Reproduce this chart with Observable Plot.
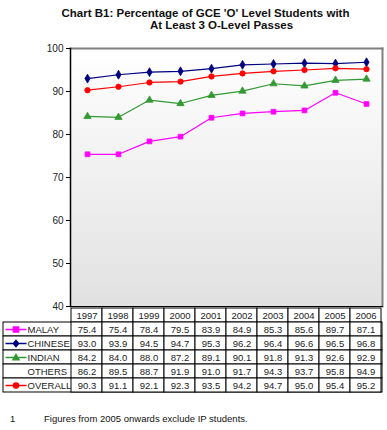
<!DOCTYPE html>
<html><head><meta charset="utf-8">
<script src="https://cdn.jsdelivr.net/npm/d3@7"></script>
<script src="https://cdn.jsdelivr.net/npm/@observablehq/plot@0.6"></script>
<style>
body{margin:0;background:#fff;font-family:"Liberation Sans",Arial,sans-serif;}
#wrap{position:relative;width:387px;height:430px;overflow:hidden;background:#fff}
.t{position:absolute;white-space:nowrap;color:#111}
#t1,#t2{font-weight:bold;font-size:11.5px;text-align:center;width:387px}
#chart,#table{position:absolute;left:0}
#chart{top:38px}
#table{top:300px}
.note{font-size:9.5px;top:413px;color:#111}
</style></head>
<body><div id="wrap">
<div class="t" id="t1"></div>
<div class="t" id="t2"></div>
<div id="chart"></div>
<div id="table"></div>
<div class="t note" id="n1"></div>
<div class="t note" id="n2"></div>
</div>
<script>
const years = ["1997","1998","1999","2000","2001","2002","2003","2004","2005","2006"];
const malay   = [75.4,75.4,78.4,79.5,83.9,84.9,85.3,85.6,89.7,87.1];
const chinese = [93.0,93.9,94.5,94.7,95.3,96.2,96.4,96.6,96.5,96.8];
const indian  = [84.2,84.0,88.0,87.2,89.1,90.1,91.8,91.3,92.6,92.9];
const others  = [86.2,89.5,88.7,91.9,91.0,91.7,94.3,93.7,95.8,94.9];
const overall = [90.3,91.1,92.1,92.3,93.5,94.2,94.7,95.0,95.4,95.2];
const seriesNames = ["MALAY","CHINESE","INDIAN","OTHERS","OVERALL"];
const seriesValues = [malay, chinese, indian, others, overall];
const plotted = ["MALAY","CHINESE","INDIAN","OVERALL"];
const seriesColors = ["#ff00ff","#000080","#339933","#ff0000"];
const seriesSymbols = ["square","diamond","triangle","circle"];
const yTicks = [40,50,60,70,80,90,100];
const title1 = "Chart B1: Percentage of GCE 'O' Level Students with";
const title2 = "At Least 3 O-Level Passes";
const noteNum = "1";
const noteText = "Figures from 2005 onwards exclude IP students.";

const FONT = '"Liberation Sans", Arial, sans-serif';

// titles and note
const t1 = document.getElementById("t1"); t1.textContent = title1; t1.style.left = "12px"; t1.style.top = "7px";
const t2 = document.getElementById("t2"); t2.textContent = title2; t2.style.left = "28px"; t2.style.top = "19px";
const n1 = document.getElementById("n1"); n1.textContent = noteNum; n1.style.left = "10px";
const n2 = document.getElementById("n2"); n2.textContent = noteText; n2.style.left = "44px";

const rows = seriesNames.flatMap((s, i) => years.map((y, j) => ({series: s, year: y, value: seriesValues[i][j]})));
const lineRows = rows.filter(d => plotted.includes(d.series));

const defsMark = () => {
  const defs = d3.create("svg:defs");
  const g = defs.append("linearGradient").attr("id", "bgGrad")
    .attr("x1", 0).attr("y1", 0).attr("x2", 0).attr("y2", 1);
  g.append("stop").attr("offset", "0%").attr("stop-color", "#ffffff");
  g.append("stop").attr("offset", "100%").attr("stop-color", "#e1e1e1");
  return defs.node();
};

const chart = Plot.plot({
  width: 387, height: 270,
  marginLeft: 70, marginRight: 5, marginTop: 10, marginBottom: 2,
  style: {fontFamily: FONT, fontSize: "10px", color: "#000", background: "transparent", overflow: "visible"},
  x: {type: "point", domain: years, padding: 0.5, axis: null},
  y: {domain: [40, 100], axis: null},
  color: {domain: plotted, range: seriesColors},
  symbol: {domain: plotted, range: seriesSymbols},
  marks: [
    defsMark,
    Plot.frame({fill: "url(#bgGrad)", stroke: null}),
    Plot.frame({anchor: "top", stroke: "#808080", strokeWidth: 2}),
    Plot.frame({anchor: "right", stroke: "#808080", strokeWidth: 2}),
    Plot.frame({anchor: "left", stroke: "#000", strokeWidth: 1.5}),
    Plot.frame({anchor: "bottom", stroke: "#000", strokeWidth: 1}),
    Plot.axisY({ticks: yTicks, tickSize: 4, tickPadding: 3, label: null, fill: "#222", tickFormat: d => String(d)}),
    Plot.line(lineRows, {x: "year", y: "value", z: "series", stroke: "series", strokeWidth: 1.2}),
    Plot.dot(lineRows, {x: "year", y: "value", symbol: "series", fill: "series", stroke: "series", strokeWidth: 0.8, r: 2.7})
  ]
});
document.getElementById("chart").appendChild(chart);

// legend symbols for table
function legendSymbol(kind) {
  return {
    draw(ctx) {
      ctx.moveTo(-10.5, 0); ctx.lineTo(10.5, 0);
      if (kind === "square") { ctx.rect(-2.6, -2.6, 5.2, 5.2); }
      else if (kind === "diamond") { ctx.moveTo(0, -3); ctx.lineTo(2.6, 0); ctx.lineTo(0, 3); ctx.lineTo(-2.6, 0); ctx.closePath(); }
      else if (kind === "triangle") { ctx.moveTo(0, -3); ctx.lineTo(3, 2.2); ctx.lineTo(-3, 2.2); ctx.closePath(); }
      else { ctx.moveTo(2.5, 0); ctx.arc(0, 0, 2.5, 0, 2 * Math.PI); }
    }
  };
}

const HDR = "YEAR";
const headerCells = years.map(y => ({series: HDR, year: y}));
const table = Plot.plot({
  width: 387, height: 96,
  marginLeft: 3, marginRight: 5, marginTop: 7, marginBottom: 4,
  style: {fontFamily: FONT, fontSize: "9.5px", color: "#000", background: "transparent", overflow: "visible"},
  x: {type: "band", domain: years, range: [70, 382], padding: 0, axis: null},
  y: {type: "band", domain: [HDR, ...seriesNames], padding: 0, axis: null},
  marks: [
    Plot.cell(seriesNames, {y: d => d, stroke: "#000", fill: "#fff", inset: 0}),
    Plot.cell(headerCells.concat(rows), {x: "year", y: "series", stroke: "#000", fill: "#fff", inset: 0}),
    Plot.text(headerCells, {x: "year", y: "series", text: "year", fill: "#222"}),
    Plot.text(rows, {x: "year", y: "series", text: d => d.value.toFixed(1), fill: "#222"}),
    Plot.text(seriesNames, {y: d => d, text: d => d, frameAnchor: "left", dx: 24, textAnchor: "start", fill: "#222"}),
    ...plotted.map((s, i) => Plot.dot([s], {y: d => d, frameAnchor: "left", dx: 12.5,
      symbol: legendSymbol(seriesSymbols[i]), fill: seriesColors[i], stroke: seriesColors[i], strokeWidth: 1.5}))
  ]
});
document.getElementById("table").appendChild(table);
</script>
</body></html>
